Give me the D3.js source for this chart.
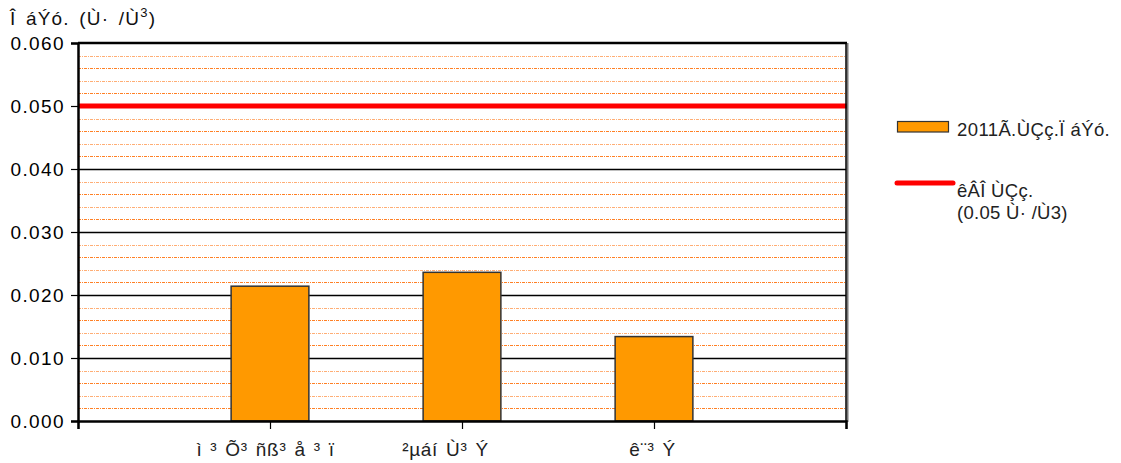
<!DOCTYPE html>
<html><head><meta charset="utf-8">
<script src="https://cdn.jsdelivr.net/npm/d3@7/dist/d3.min.js"></script>
<style>body{margin:0;background:#fff}svg{display:block;font-family:"Liberation Sans",Arial,sans-serif}</style>
</head><body><svg id="c" width="1121" height="463"></svg>
<script>
const categories = ["", "ì ³ Õ³ ñß³ å ³ ï", "²µáí Ù³ Ý", "ê¨³ Ý", ""];
const values = [null, 0.0214, 0.0236, 0.0134, null];
const limitValue = 0.05;
const yTicks = [0, 0.01, 0.02, 0.03, 0.04, 0.05, 0.06];
const minorTicks = d3.range(0.002, 0.0601, 0.002).filter(v => Math.abs(v*100 - Math.round(v*100)) > 1e-6);
const seriesName = "2011Ã.ÙÇç.Ï áÝó.";
const limitName = ["êÂÎ ÙÇç.", "(0.05 Ù· /Ù3)"];
const yTitle = "Î áÝó. (Ù· /Ù";
const labelOffsets = [0, -5, -17, -2, 0];

const svg = d3.select("#c");
const L = 78, R = 846, T = 43, B = 421;
const x = d3.scalePoint().domain(d3.range(categories.length)).range([L, R]);
const y = d3.scaleLinear().domain([0, 0.06]).range([B, T]);
const step = x.step();
const bw = step * 0.405;
const FONT = "Liberation Sans, Arial, sans-serif";

// minor grid
svg.append("g").selectAll("line").data(minorTicks).join("line")
  .attr("x1", L).attr("x2", R).attr("y1", d => Math.round(y(d)) + 0.5).attr("y2", d => Math.round(y(d)) + 0.5)
  .attr("stroke", "#ff7a1a").attr("stroke-width", 1).attr("stroke-dasharray", "3,1,1,1")
  .attr("opacity", (d, i) => i % 2 ? 0.6 : 0.95);
// major grid
svg.append("g").selectAll("line").data(yTicks.filter(v => v > 0 && v < 0.06)).join("line")
  .attr("x1", L).attr("x2", R).attr("y1", d => Math.round(y(d)) + 0.5).attr("y2", d => Math.round(y(d)) + 0.5)
  .attr("stroke", "#000").attr("stroke-width", 1.5);

// bars
svg.append("g").selectAll("rect").data(values.map((v, i) => ({v, i})).filter(d => d.v != null)).join("rect")
  .attr("x", d => x(d.i) - bw/2).attr("width", bw)
  .attr("y", d => y(d.v)).attr("height", d => B - y(d.v))
  .attr("fill", "#ff9900").attr("stroke", "#333").attr("stroke-width", 1.5);

// limit line
svg.append("line").attr("x1", L).attr("x2", R + 2).attr("y1", y(limitValue)).attr("y2", y(limitValue))
  .attr("stroke", "#ff0000").attr("stroke-width", 5);

// frame
svg.append("line").attr("x1", L).attr("x2", R + 1).attr("y1", T).attr("y2", T).attr("stroke", "#000").attr("stroke-width", 2.5);
svg.append("line").attr("x1", R + 1.5).attr("x2", R + 1.5).attr("y1", T).attr("y2", B + 1).attr("stroke", "#777").attr("stroke-width", 2);
svg.append("line").attr("x1", R).attr("x2", R).attr("y1", T).attr("y2", B).attr("stroke", "#000").attr("stroke-width", 1.5);

// y axis
const ya = svg.append("g").attr("transform", `translate(${L},0)`)
  .call(d3.axisLeft(y).tickValues(yTicks).tickFormat(d3.format(".3f")).tickSize(7).tickPadding(6));
ya.select(".domain").attr("stroke", "#000").attr("stroke-width", 2.5);
ya.selectAll(".tick line").attr("stroke", "#000").attr("stroke-width", 1.2);
ya.selectAll("text").attr("font-size", 19).attr("letter-spacing", 1.4).attr("fill", "#000").attr("font-family", FONT);

// x axis
const xa = svg.append("g").attr("transform", `translate(0,${B})`)
  .call(d3.axisBottom(x).tickFormat(i => categories[i]).tickSize(8).tickPadding(14));
xa.select(".domain").attr("stroke", "#000").attr("stroke-width", 2.5);
xa.selectAll(".tick line").attr("stroke", "#000").attr("stroke-width", 1.2);
xa.selectAll("text").attr("font-size", 19).attr("letter-spacing", 0.7).attr("word-spacing", 2)
  .attr("fill", "#222").attr("font-family", FONT)
  .attr("dx", (d) => labelOffsets[d]);

// y title
const tt = svg.append("text").attr("x", 10).attr("y", 25).attr("font-size", 19).attr("letter-spacing", 1.2)
  .attr("word-spacing", 3).attr("fill", "#111");
tt.append("tspan").text(yTitle);
tt.append("tspan").attr("font-size", 13).attr("dy", -8).text("3");
tt.append("tspan").attr("dy", 8).text(")");

// legend
const lg = svg.append("g");
lg.append("rect").attr("x", 897.5).attr("y", 121.5).attr("width", 51).attr("height", 10.5)
  .attr("fill", "#ff9900").attr("stroke", "#333").attr("stroke-width", 1.2);
lg.append("text").attr("x", 957).attr("y", 136).attr("font-size", 18.5).attr("letter-spacing", 0.4)
  .attr("fill", "#222").text(seriesName);
lg.append("line").attr("x1", 897).attr("x2", 953).attr("y1", 183).attr("y2", 183)
  .attr("stroke", "#ff0000").attr("stroke-width", 5).attr("stroke-linecap", "round");
lg.selectAll("text.l2").data(limitName).join("text").attr("class", "l2")
  .attr("x", 957).attr("y", (d, i) => 197 + i * 22).attr("font-size", 18.5).attr("letter-spacing", 0.3)
  .attr("fill", "#222").text(d => d);
</script></body></html>
